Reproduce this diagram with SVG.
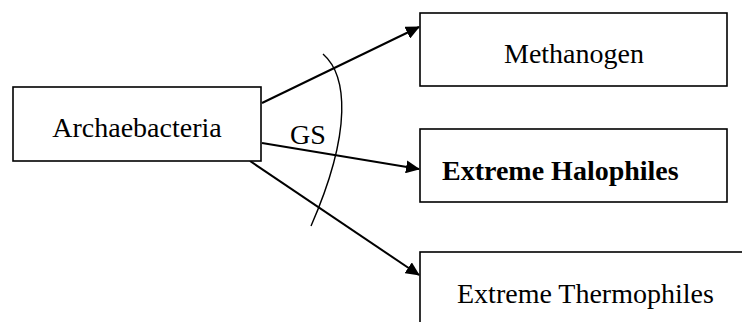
<svg xmlns="http://www.w3.org/2000/svg" width="742" height="322" viewBox="0 0 742 322">
  <style>
    .box { fill: #ffffff; stroke: #000000; stroke-width: 1.6; }
    .label { font-family: "Liberation Serif", "Times New Roman", serif; font-size: 28px; fill: #000000; }
    .bold { font-weight: bold; }
    .link { stroke: #000000; stroke-width: 2; fill: none; }
    .arc { stroke: #000000; stroke-width: 1.4; fill: none; }
  </style>
  <defs>
    <marker id="arrow" markerUnits="userSpaceOnUse" markerWidth="14" markerHeight="13" refX="13" refY="6.5" orient="auto">
      <path d="M0,0 L14,6.5 L0,13 z" fill="#000000"/>
    </marker>
  </defs>
  <rect width="742" height="322" fill="#ffffff"/>

  <g id="connectors">
    <line class="link" x1="262" y1="103" x2="419" y2="27" marker-end="url(#arrow)"/>
    <line class="link" x1="262" y1="143" x2="419" y2="169" marker-end="url(#arrow)"/>
    <line class="link" x1="250" y1="161" x2="419" y2="275" marker-end="url(#arrow)"/>
    <path class="arc" d="M323,54 C347,75 353,130 311,226"/>
    <text class="label" x="290" y="144">GS</text>
  </g>

  <g id="archaebacteria">
    <rect class="box" x="13" y="87" width="248" height="74"/>
    <text class="label" x="137" y="137" text-anchor="middle">Archaebacteria</text>
  </g>

  <g id="methanogen">
    <rect class="box" x="420" y="13" width="307" height="73"/>
    <text class="label" x="574" y="63" text-anchor="middle">Methanogen</text>
  </g>

  <g id="extreme-halophiles">
    <rect class="box" x="420" y="129" width="307" height="73"/>
    <text class="label bold" x="442" y="180">Extreme Halophiles</text>
  </g>

  <g id="extreme-thermophiles">
    <rect class="box" x="420" y="252" width="340" height="100"/>
    <text class="label" x="457" y="303">Extreme Thermophiles</text>
  </g>
</svg>
